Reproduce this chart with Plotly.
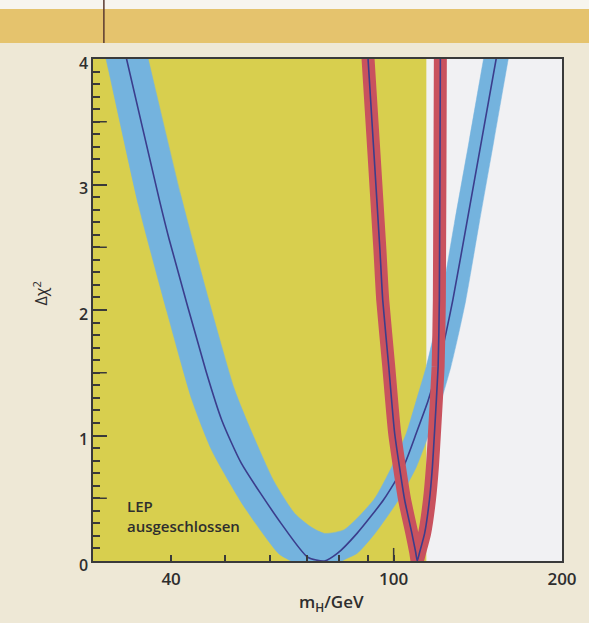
import math
import plotly.graph_objects as go

# ---------------- data ----------------
X_RANGE = [29, 200]          # m_H / GeV (log axis)
Y_RANGE = [0, 4]             # delta chi^2
LEP_LIMIT = 114.4            # LEP exclusion limit (GeV)

x_tick_vals = [40, 100, 200]
x_tick_text = ["40", "100", "200"]
x_minor_vals = [50, 60, 70, 80, 90]
x_long_tick = 100
y_tick_vals = [0, 1, 2, 3, 4]
y_tick_text = ["0", "1", "2", "3", "4"]
y_half_ticks = [0.5, 1.5, 2.5, 3.5]

# central blue curve (electroweak fit)
blue_center_m = [31.0, 33.3, 38.1, 39.7, 46.2, 49.3, 53.4, 62.9, 70.2, 75.2,
                 79.3, 86.0, 96.0, 104.1, 109.8, 115.3, 120.1, 124.1, 127.6,
                 135.1, 143.6, 152.5, 161.1]
blue_center_d = [4.6, 4.0, 2.88, 2.56, 1.51, 1.12, 0.78, 0.30, 0.03, 0.0,
                 0.06, 0.22, 0.49, 0.75, 1.02, 1.28, 1.55, 1.82, 2.08,
                 2.69, 3.35, 4.0, 4.6]

# theory-uncertainty band: outer (lower) edge and inner (upper) edge
blue_outer_m = [28.4, 30.6, 35.0, 39.3, 43.6, 47.3, 53.8, 62.3, 65.5, 75.2,
                80.9, 86.0, 92.6, 102.1, 109.8, 115.8, 121.6, 126.6, 130.8,
                134.6, 142.2, 151.1, 160.3, 169.7]
blue_outer_d = [4.6, 4.0, 2.83, 1.99, 1.28, 0.88, 0.445, 0.058, 0.0, -0.17,
                0.0, 0.06, 0.22, 0.49, 0.75, 1.02, 1.28, 1.55, 1.82,
                2.08, 2.69, 3.35, 4.0, 4.6]
blue_inner_m = [33.8, 36.4, 41.6, 46.7, 51.9, 55.7, 61.0, 66.5, 71.2, 75.2,
                81.6, 92.2, 99.2, 105.4, 109.8, 114.4, 118.2, 121.6, 128.4,
                136.5, 144.8, 153.3]
blue_inner_d = [4.6, 4.0, 2.92, 2.08, 1.37, 1.03, 0.64, 0.38, 0.27, 0.22,
                0.25, 0.49, 0.75, 1.02, 1.28, 1.55, 1.82, 2.08, 2.69,
                3.35, 4.0, 4.6]

# red curve
red_m = [88.2, 90.0, 94.5, 95.6, 98.0, 100.4, 104.6, 107.8, 109.5, 110.2,
         111.3, 113.6, 115.9, 117.3, 118.3, 120.1, 120.7, 121.2, 121.4]
red_d = [4.6, 4.0, 2.48, 2.08, 1.55, 1.02, 0.49, 0.22, 0.07, 0.0,
         0.07, 0.22, 0.49, 0.75, 1.02, 1.55, 2.08, 4.0, 4.6]

# ---------------- styles ----------------
BG = "#eee8d6"
BAND_TOP = "#e5c36d"
PLOT_BG = "#f1f1f3"
YELLOW = "#d8cf4e"
BLUE = "#74b3de"
NAVY = "#3b3d8c"
RED = "#c9525e"
AX = "#3a3a3a"
TXT = "#2e2e2e"
FONT = "Open Sans"

fig = go.Figure()

band_m = blue_outer_m + blue_inner_m[::-1]
band_d = blue_outer_d + blue_inner_d[::-1]
fig.add_trace(go.Scatter(
    x=band_m, y=band_d, mode="lines", fill="toself", fillcolor=BLUE,
    line=dict(width=0.5, color=BLUE, shape="spline", smoothing=0.6),
    hoverinfo="skip"))
fig.add_trace(go.Scatter(
    x=blue_center_m, y=blue_center_d, mode="lines",
    line=dict(width=1.6, color=NAVY, shape="spline", smoothing=0.6),
    hoverinfo="skip"))
fig.add_trace(go.Scatter(
    x=red_m, y=red_d, mode="lines",
    line=dict(width=13, color=RED, shape="spline", smoothing=0.5),
    hoverinfo="skip"))
fig.add_trace(go.Scatter(
    x=red_m, y=red_d, mode="lines",
    line=dict(width=1.6, color=NAVY, shape="spline", smoothing=0.5),
    hoverinfo="skip"))

shapes = [
    # LEP-excluded region
    dict(type="rect", xref="x", yref="y", layer="below",
         x0=X_RANGE[0], x1=LEP_LIMIT,
         y0=Y_RANGE[0], y1=Y_RANGE[1], fillcolor=YELLOW, line=dict(width=0)),
    # long tick at 100
    dict(type="line", xref="x", yref="paper",
         x0=x_long_tick, x1=x_long_tick, y0=0, y1=0.026,
         line=dict(color=AX, width=1.5)),
    # header strip
    dict(type="rect", xref="paper", yref="paper", layer="below",
         x0=-0.25, x1=1.1, y0=1.0996, y1=1.13, fillcolor="#f7f5ee",
         line=dict(width=0)),
    dict(type="rect", xref="paper", yref="paper", layer="below",
         x0=-0.25, x1=1.1, y0=1.0319, y1=1.0996, fillcolor=BAND_TOP,
         line=dict(width=0)),
    dict(type="line", xref="paper", yref="paper",
         x0=0.0232, x1=0.0232, y0=1.0319, y1=1.13,
         line=dict(color="#5a3a30", width=1.5)),
]
# long unlabeled ticks at the half units of the y axis
for v in y_half_ticks:
    shapes.append(dict(type="line", xref="paper", yref="y",
                       x0=0, x1=0.0295, y0=v, y1=v,
                       line=dict(color=AX, width=1.5)))

annotations = [
    dict(text="Δχ<sup>2</sup>", xref="paper", yref="paper", x=-0.112, y=0.534,
         showarrow=False, textangle=-90, xanchor="center", yanchor="middle",
         font=dict(family=FONT, size=16, color=TXT)),
    dict(text="m<sub>H</sub>/GeV", xref="paper", yref="paper", x=0.508, y=-0.082,
         showarrow=False, xanchor="center", yanchor="middle",
         font=dict(family=FONT, size=17, color=TXT, weight=600)),
    dict(text="LEP<br>ausgeschlossen", xref="paper", yref="paper", x=0.068, y=0.09,
         showarrow=False, xanchor="left", yanchor="middle", align="left",
         font=dict(family=FONT, size=15, color=TXT, weight=600)),
]

fig.update_layout(
    width=589, height=623,
    margin=dict(l=93, r=22, t=59, b=62),
    paper_bgcolor=BG, plot_bgcolor=PLOT_BG,
    showlegend=False,
    shapes=shapes, annotations=annotations,
    xaxis=dict(
        type="log",
        range=[math.log10(X_RANGE[0]), math.log10(X_RANGE[1])],
        tickmode="array", tickvals=x_tick_vals, ticktext=x_tick_text,
        ticks="inside", ticklen=6, tickwidth=1.5, tickcolor=AX,
        showline=True, linecolor=AX, linewidth=1.5, mirror=True,
        showgrid=False, zeroline=False, ticklabelstandoff=2,
        tickfont=dict(family=FONT, size=17, color=TXT, weight=600),
        minor=dict(tickmode="array", tickvals=x_minor_vals, ticks="inside",
                   ticklen=6, tickwidth=1.5, tickcolor=AX, showgrid=False),
    ),
    yaxis=dict(
        range=Y_RANGE,
        tickmode="array", tickvals=y_tick_vals, ticktext=y_tick_text,
        ticks="inside", ticklen=14, tickwidth=1.5, tickcolor=AX,
        showline=True, linecolor=AX, linewidth=1.5, mirror=True,
        showgrid=False, zeroline=False, ticklabelshift=4,
        tickfont=dict(family=FONT, size=16, color=TXT, weight=600),
        minor=dict(tickmode="linear", tick0=0, dtick=0.1, ticks="inside",
                   ticklen=7, tickwidth=1.5, tickcolor=AX, showgrid=False),
    ),
)

fig.write_html("out.html",
               config={"displayModeBar": False},
               post_script="document.body.style.margin='0';"
                           "document.body.style.background='" + BG + "';")
